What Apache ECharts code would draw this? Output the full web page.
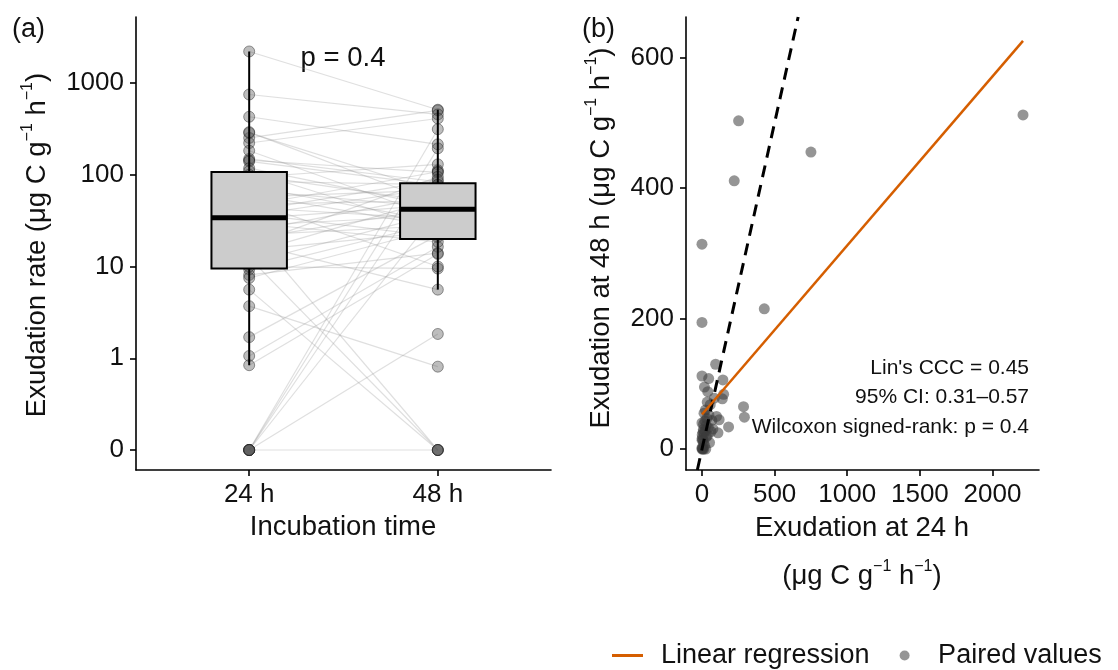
<!DOCTYPE html>
<html>
<head>
<meta charset="utf-8">
<script src="https://cdn.jsdelivr.net/npm/echarts@6/dist/echarts.min.js"></script>
<style>
  html, body { margin: 0; padding: 0; background: #fff; }
  #chart { width: 1118px; height: 670px; }
</style>
</head>
<body>
<div id="chart"></div>
<script>
// paired exudation rates per sample (µg C g-1 h-1), same index = same sample
const exud24 = [2210, 252, 750, 222, 0, 429, 0, 94, 0, 46, 144, 149, 140, 286, 292, 183, 118, 110, 0, 0,
  0, 9.3, 8.1, 7.5, 5.6, 3.7, 1.7, 1.06, 0.84, 10, 11, 12.5, 14, 15, 17, 18, 20, 22, 24, 26,
  28, 30, 33, 36, 38, 40, 44, 48, 52, 57, 62, 68, 75, 85, 100];
const exud48 = [512, 503, 455, 411, 314, 215, 194, 130, 112, 108, 106, 84, 77, 65, 49, 34, 45, 25, 40, 1.84,
  0, 30, 14, 26, 0, 0.81, 22, 16.4, 13.7, 9.5, 38, 0, 55, 24, 95, 5.6, 43, 28, 60, 0,
  36, 18.6, 47, 72, 21, 88, 33, 52, 10, 68, 27, 44, 31, 78, 50];

// box stats: [lower whisker, Q1, median, Q3, upper whisker]
const box24 = [0.84, 9.5, 34, 107, 2210];
const box48 = [5.6, 20, 42, 81, 512];

const timeLabels = ['24 h', '48 h'];
const timePos = [1, 2];
const logTicks = [0, 1, 10, 100, 1000];
const scatterXTicks = [0, 500, 1000, 1500, 2000];
const scatterYTicks = [0, 200, 400, 600];

// linear fit of 48 h on 24 h
const regIntercept = 53;
const regSlope = 0.259;

const FONT = '"Liberation Sans", Arial, sans-serif';

// zeros sit one decade below 1 on the log axis
const tr = v => Math.log10(Math.max(v, 0.1));

const chart = echarts.init(document.getElementById('chart'));

const axisLine = { show: true, onZero: false, lineStyle: { color: '#000', width: 1.6 } };
const axisTick = { show: true, length: 6, lineStyle: { color: '#000', width: 1.6 } };
const labelStyle = { color: '#111', fontSize: 26, fontFamily: FONT };

const unitRich = {
  sup: { fontSize: 16, verticalAlign: 'top', fontFamily: FONT, lineHeight: 18 }
};
const unitText = '(μg C g{sup|−1} h{sup|−1})';

const xMin = Math.min(...exud24);
const xMax = Math.max(...exud24);
const yRangeB = [-32, 662];

const titleStyle = { fontSize: 27.5, fontFamily: FONT, fill: '#111', align: 'center', verticalAlign: 'middle' };
const noteStyle = { fontSize: 21, fontFamily: FONT, fill: '#111', align: 'right', verticalAlign: 'middle' };

const option = {
  animation: false,
  backgroundColor: '#fff',
  grid: [
    { left: 136, right: 567, top: 17, bottom: 200 },
    { left: 686, right: 79, top: 17, bottom: 200 }
  ],
  xAxis: [
    {
      gridIndex: 0, type: 'value', min: 0.4, max: 2.6,
      axisLine, splitLine: { show: false },
      axisTick: Object.assign({ customValues: timePos }, axisTick),
      axisLabel: Object.assign({
        customValues: timePos, margin: 12,
        formatter: v => timeLabels[timePos.indexOf(v)]
      }, labelStyle)
    },
    {
      gridIndex: 1, type: 'value', min: -110, max: 2320,
      axisLine, splitLine: { show: false },
      axisTick: Object.assign({ customValues: scatterXTicks }, axisTick),
      axisLabel: Object.assign({ customValues: scatterXTicks, margin: 12, formatter: v => String(v) }, labelStyle)
    }
  ],
  yAxis: [
    {
      gridIndex: 0, type: 'value', min: -1.218, max: 3.72,
      axisLine, splitLine: { show: false },
      axisTick: Object.assign({ customValues: logTicks.map(tr) }, axisTick),
      axisLabel: Object.assign({
        customValues: logTicks.map(tr), margin: 12,
        formatter: v => String(logTicks[Math.round(v) + 1])
      }, labelStyle)
    },
    {
      gridIndex: 1, type: 'value', min: yRangeB[0], max: yRangeB[1],
      axisLine, splitLine: { show: false },
      axisTick: Object.assign({ customValues: scatterYTicks }, axisTick),
      axisLabel: Object.assign({ customValues: scatterYTicks, margin: 12, formatter: v => String(v) }, labelStyle)
    }
  ],
  legend: {
    data: [
      { name: 'Linear regression', icon: 'path://M0 0H31V3H0Z' },
      { name: 'Paired values', icon: 'circle' }
    ],
    left: 612, top: 642, padding: 0,
    itemWidth: 31, itemHeight: 10, itemGap: 30,
    selectedMode: false,
    textStyle: { fontSize: 27, fontFamily: FONT, color: '#111', padding: [0, 0, 0, 13] }
  },
  series: [
    // grey lines joining each sample's two measurements
    {
      type: 'custom', xAxisIndex: 0, yAxisIndex: 0, silent: true, z: 1,
      data: exud24.map((v, i) => [timePos[0], tr(v), timePos[1], tr(exud48[i])]),
      encode: { x: [0, 2], y: [1, 3] },
      renderItem: (params, api) => {
        const a = api.coord([api.value(0), api.value(1)]);
        const b = api.coord([api.value(2), api.value(3)]);
        return {
          type: 'line',
          shape: { x1: a[0], y1: a[1], x2: b[0], y2: b[1] },
          style: { stroke: 'rgba(150,150,150,0.3)', lineWidth: 1.2 }
        };
      }
    },
    {
      name: 'pts24', type: 'scatter', xAxisIndex: 0, yAxisIndex: 0, z: 2,
      symbolSize: 11,
      itemStyle: { color: 'rgba(90,90,90,0.5)', borderColor: 'rgba(30,30,30,0.55)', borderWidth: 1 },
      data: exud24.map(v => [timePos[0], tr(v)])
    },
    {
      name: 'pts48', type: 'scatter', xAxisIndex: 0, yAxisIndex: 0, z: 2,
      symbolSize: 11,
      itemStyle: { color: 'rgba(90,90,90,0.5)', borderColor: 'rgba(30,30,30,0.55)', borderWidth: 1 },
      data: exud48.map(v => [timePos[1], tr(v)])
    },
    // boxes
    {
      type: 'custom', xAxisIndex: 0, yAxisIndex: 0, silent: true, z: 3,
      data: [[timePos[0]].concat(box24.map(tr)), [timePos[1]].concat(box48.map(tr))],
      encode: { x: 0, y: [1, 2, 3, 4, 5] },
      renderItem: (params, api) => {
        const x = api.value(0);
        const hw = 0.2;
        const lo = api.coord([x, api.value(1)]);
        const hi = api.coord([x, api.value(5)]);
        const bl = api.coord([x - hw, api.value(2)]);
        const tr2 = api.coord([x + hw, api.value(4)]);
        const mL = api.coord([x - hw, api.value(3)]);
        const mR = api.coord([x + hw, api.value(3)]);
        return {
          type: 'group',
          children: [
            { type: 'line', shape: { x1: lo[0], y1: lo[1], x2: hi[0], y2: hi[1] }, style: { stroke: '#000', lineWidth: 2 } },
            { type: 'rect', shape: { x: bl[0], y: tr2[1], width: tr2[0] - bl[0], height: bl[1] - tr2[1] },
              style: { fill: '#cccccc', stroke: '#000', lineWidth: 2 } },
            { type: 'line', shape: { x1: mL[0], y1: mL[1], x2: mR[0], y2: mR[1] }, style: { stroke: '#000', lineWidth: 5 } }
          ]
        };
      }
    },
    // panel b
    {
      name: 'Paired values', type: 'scatter', xAxisIndex: 1, yAxisIndex: 1, z: 2,
      symbolSize: 11,
      itemStyle: { color: 'rgba(60,60,60,0.68)' },
      data: exud24.map((v, i) => [v, exud48[i]])
    },
    {
      name: '1:1', type: 'line', xAxisIndex: 1, yAxisIndex: 1, z: 3,
      symbol: 'none', silent: true,
      lineStyle: { color: '#000', width: 3, type: [12, 8] },
      data: [[yRangeB[0], yRangeB[0]], [yRangeB[1], yRangeB[1]]]
    },
    {
      name: 'Linear regression', type: 'line', xAxisIndex: 1, yAxisIndex: 1, z: 4,
      symbol: 'none', silent: true,
      itemStyle: { color: '#D55E00' },
      lineStyle: { color: '#D55E00', width: 2.5 },
      data: [[xMin, regIntercept + regSlope * xMin], [xMax, regIntercept + regSlope * xMax]]
    }
  ],
  graphic: [
    { type: 'text', left: 12, top: 16, style: { text: '(a)', fontSize: 27, fontFamily: FONT, fill: '#111' } },
    { type: 'text', left: 582, top: 16, style: { text: '(b)', fontSize: 27, fontFamily: FONT, fill: '#111' } },
    { type: 'text', x: 343, y: 58, style: Object.assign({ text: 'p = 0.4' }, titleStyle) },
    { type: 'text', x: 343, y: 527, style: Object.assign({ text: 'Incubation time' }, titleStyle) },
    { type: 'text', x: 862, y: 528, style: Object.assign({ text: 'Exudation at 24 h' }, titleStyle) },
    { type: 'text', x: 862, y: 576, style: Object.assign({ text: unitText, rich: unitRich, lineHeight: 34 }, titleStyle) },
    { type: 'text', x: 37, y: 245, rotation: Math.PI / 2,
      style: Object.assign({ text: 'Exudation rate ' + unitText, rich: unitRich, lineHeight: 34 }, titleStyle) },
    { type: 'text', x: 601, y: 238, rotation: Math.PI / 2,
      style: Object.assign({ text: 'Exudation at 48 h ' + unitText, rich: unitRich, lineHeight: 34 }, titleStyle) },
    { type: 'text', x: 1029, y: 368, style: Object.assign({ text: "Lin's CCC = 0.45" }, noteStyle) },
    { type: 'text', x: 1029, y: 397, style: Object.assign({ text: '95% CI: 0.31–0.57' }, noteStyle) },
    { type: 'text', x: 1029, y: 427, style: Object.assign({ text: 'Wilcoxon signed-rank: p = 0.4' }, noteStyle) }
  ]
};

chart.setOption(option);
</script>
</body>
</html>
